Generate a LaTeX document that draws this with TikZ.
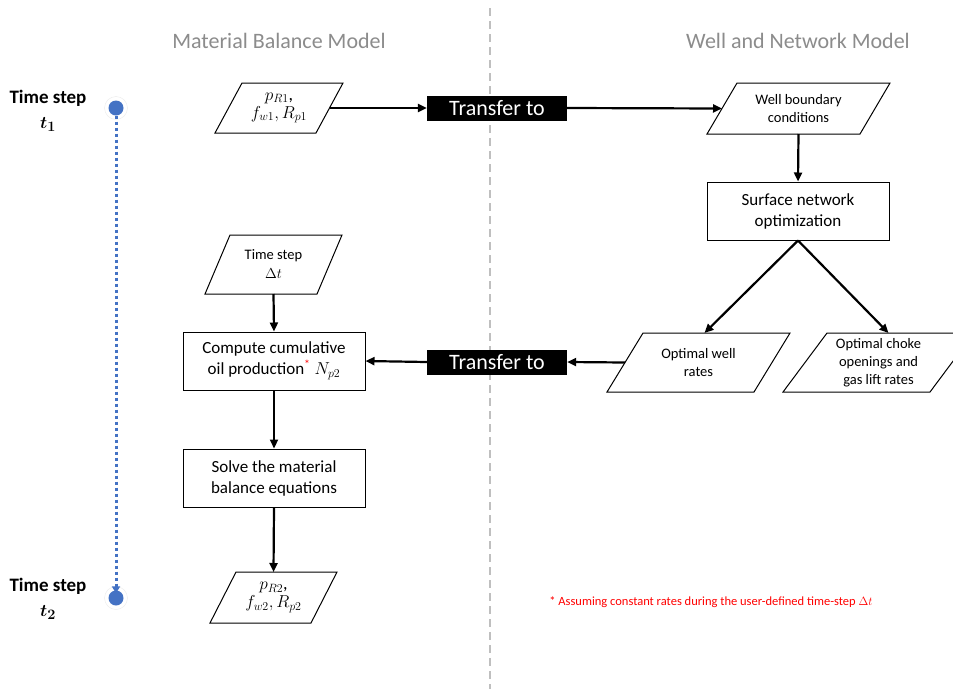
\documentclass[tikz,border=0pt]{standalone}
\usepackage{fontspec}
\setmainfont{Carlito}
\usepackage{bm}
\usetikzlibrary{arrows.meta}
\definecolor{dotblue}{HTML}{4472C4}
\definecolor{hdrgray}{HTML}{8C8C8C}
\definecolor{splitgray}{HTML}{BFBFBF}

% slanted frame round a node: node name, slant in pt
\newcommand{\ioframe}[2]{\draw[line width=1pt] ([xshift=#2]#1.north west) -- (#1.north east) -- ([xshift=-#2]#1.south east) -- (#1.south west) -- cycle;}

\begin{document}
\begin{tikzpicture}[x=1pt, y=-1pt,
    flow/.style={-{Triangle[length=9pt,width=8pt]}, line width=2.2pt},
    procbox/.style={draw, line width=1pt, minimum width=182, minimum height=58, align=center, font=\fontsize{17}{21}\selectfont},
    iobox/.style={inner sep=0pt, outer sep=0pt, align=center},
    xferbox/.style={fill=black, text=white, minimum width=140, minimum height=25, inner sep=0pt, font=\fontsize{22}{22}\selectfont},
    header/.style={text=hdrgray, font=\fontsize{22}{24}\selectfont},
    steplabel/.style={align=center, font=\bfseries\fontsize{19}{25}\selectfont}]

    % Fix the page and cut off whatever sticks out
    \clip (0,0) rectangle (953,689);
    \fill[white] (0,0) rectangle (953,689);

    % Split between the two models
    \draw[splitgray, line width=1.5pt, dash pattern=on 8pt off 5pt] (490,8) -- (490,689);
    \node[header] (hdrMB) at (279,41) {Material Balance Model};
    \node[header] (hdrWN) at (798,41) {Well and Network Model};

    % Time line on the left
    \node[steplabel] (tsOne) at (48,111) {Time step\\ $\bm{t_1}$};
    \node[steplabel] (tsTwo) at (48,599) {Time step\\ $\bm{t_2}$};
    \node[circle, draw=black!8, fill=white, minimum size=23, inner sep=0pt] (haloOne) at (116,108) {};
    \node[circle, draw=black!8, fill=white, minimum size=23, inner sep=0pt] (haloTwo) at (116,598) {};
    \node[circle, fill=dotblue, minimum size=15, inner sep=0pt] (dotOne) at (116,108) {};
    \node[circle, fill=dotblue, minimum size=15, inner sep=0pt] (dotTwo) at (116,598) {};
    \draw[dotblue, line width=3pt, dash pattern=on 3pt off 3pt, -{Triangle[length=7pt,width=8pt]}] (dotOne.south) -- ([yshift=-3]dotTwo.north);

    % Material balance side
    \node[iobox, minimum width=128, minimum height=50, font=\fontsize{18}{20}\selectfont] (pOne) at (279,108) {$p_{R1}$,\\[-2pt] $f_{w1}, R_{p1}$};
    \ioframe{pOne}{27}
    \node[iobox, minimum width=137, minimum height=59, font=\fontsize{14.5}{19}\selectfont] (dtStep) at (273.5,264.5) {Time step\\ $\Delta t$};
    \ioframe{dtStep}{25}
    \node[procbox] (cumProd) at (274,361) {Compute cumulative\\ oil production\textcolor{red}{\textsuperscript{*}} $N_{p2}$};
    \node[procbox] (solveMB) at (274,478) {Solve the material\\ balance equations};
    \node[iobox, minimum width=127, minimum height=51, font=\fontsize{18}{20}\selectfont] (pTwo) at (273.5,597.5) {$p_{R2}$,\\[-2pt] $f_{w2}, R_{p2}$};
    \ioframe{pTwo}{26}

    % Transfer boxes across the split
    \node[xferbox] (xferTop) at (497,108) {Transfer to};
    \node[xferbox] (xferBot) at (497,362) {Transfer to};

    % Well and network side
    \node[iobox, minimum width=183, minimum height=51, font=\fontsize{14.5}{18}\selectfont] (wellBC) at (798.5,108.5) {Well boundary\\ conditions};
    \ioframe{wellBC}{30}
    \node[procbox] (surfOpt) at (798,211) {Surface network\\ optimization};
    \node[iobox, minimum width=183, minimum height=59, font=\fontsize{14.5}{18}\selectfont] (optRates) at (698.5,362.5) {Optimal well\\ rates};
    \ioframe{optRates}{36}
    \node[iobox, minimum width=191, minimum height=59, font=\fontsize{14.5}{18}\selectfont] (optChoke) at (878.5,362.5) {Optimal choke\\ openings and\\ gas lift rates};
    \ioframe{optChoke}{44}

    % Footnote
    \node[text=red, font=\fontsize{12.5}{14}\selectfont] (note) at (711,602) {* Assuming constant rates during the user-defined time-step $\Delta t$};

    % Connectors
    \draw[flow] ([xshift=-13.5]pOne.east) -- (xferTop.west);
    \draw[flow] (xferTop.east) -- ([xshift=15]wellBC.west);
    \draw[flow] (wellBC.south) -- (surfOpt.north);
    \draw[flow] (surfOpt.south) -- ([xshift=6]optRates.north);
    \draw[flow] (surfOpt.south) -- ([xshift=10]optChoke.north);
    \draw[flow] ([xshift=18]optRates.west) -- (xferBot.east);
    \draw[flow] (xferBot.west) -- (cumProd.east);
    \draw[flow] (dtStep.south) -- (cumProd.north);
    \draw[flow] (cumProd.south) -- (solveMB.north);
    \draw[flow] (solveMB.south) -- (pTwo.north);

\end{tikzpicture}
\end{document}
